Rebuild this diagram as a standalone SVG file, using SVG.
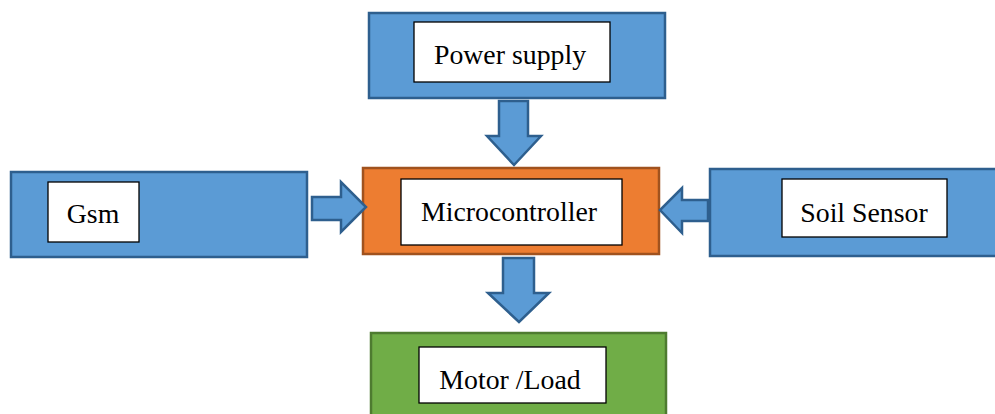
<svg xmlns="http://www.w3.org/2000/svg" width="995" height="414" viewBox="0 0 995 414">
<style>
.blue{fill:#5B9BD5;stroke:#2E5F8E;stroke-width:2.5}
.orange{fill:#ED7D31;stroke:#A0521E;stroke-width:2.5}
.green{fill:#70AD47;stroke:#4E7B30;stroke-width:2.5}
.inner{fill:#ffffff;stroke:#000000;stroke-width:1.3}
.lbl{font-family:"Liberation Serif","Times New Roman",serif;font-size:27.8px;fill:#000;text-anchor:middle}
.arr{fill:#5B9BD5;stroke:#2E5F8E;stroke-width:2.5;stroke-linejoin:miter}
</style>
<rect width="995" height="414" fill="#ffffff"/>
<g id="power">
<rect class="blue" x="369" y="13" width="296" height="85"/>
<rect class="inner" x="414" y="22" width="196" height="60"/>
<text class="lbl" x="510" y="64">Power supply</text>
</g>
<g id="gsm">
<rect class="blue" x="11" y="172" width="296" height="85"/>
<rect class="inner" x="48" y="182" width="91" height="60"/>
<text class="lbl" x="93" y="223">Gsm</text>
</g>
<g id="micro">
<rect class="orange" x="363" y="168" width="296" height="86"/>
<rect class="inner" x="401" y="179" width="221" height="66"/>
<text class="lbl" x="509" y="221">Microcontroller</text>
</g>
<g id="soil">
<rect class="blue" x="710" y="169" width="290" height="87"/>
<rect class="inner" x="782" y="179" width="165" height="58"/>
<text class="lbl" x="864" y="222">Soil Sensor</text>
</g>
<g id="motor">
<rect class="green" x="371" y="333" width="295" height="90"/>
<rect class="inner" x="419" y="347" width="187" height="56"/>
<text class="lbl" x="510" y="389">Motor /Load</text>
</g>
<g id="connectors">
<polygon class="arr" points="499,101 528,101 528,136 541,136 514,165 487,136 499,136"/>
<polygon class="arr" points="312,197 341,197 341,182 366,207 341,232 341,220 312,220"/>
<polygon class="arr" points="708,200 682,200 682,188 660,210 682,233 682,221 708,221"/>
<polygon class="arr" points="503,258 534,258 534,293 549,293 519,322 488,293 503,293"/>
</g>
</svg>
